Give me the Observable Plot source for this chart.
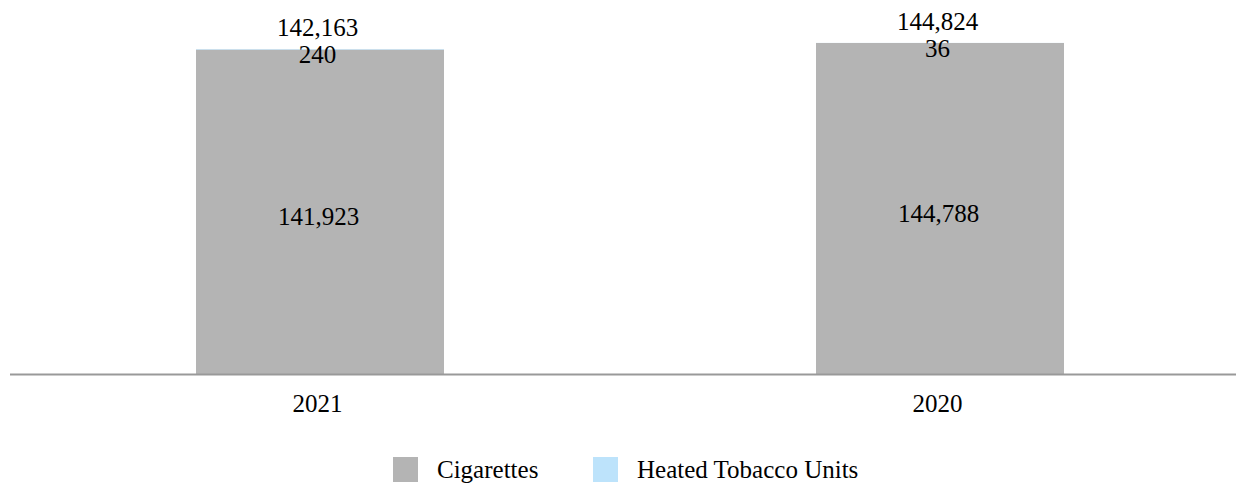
<!DOCTYPE html>
<html>
<head>
<meta charset="utf-8">
<script src="https://cdn.jsdelivr.net/npm/d3@7"></script>
<script src="https://cdn.jsdelivr.net/npm/@observablehq/plot@0.6"></script>
<style>
  html, body { margin: 0; padding: 0; background: #fff; }
  #wrap { position: relative; width: 1236px; height: 487px; font-family: "Liberation Serif", serif; }
  #chart { position: absolute; left: 0; top: 0; }
  #chart svg, #chart svg text { font-family: "Liberation Serif", serif !important; }
  .sw { position: absolute; width: 25px; height: 25px; top: 457px; }
  .lt { position: absolute; top: 455px; font-family: "Liberation Serif", serif; font-size: 25px; line-height: 29px; color: #000; white-space: nowrap; }
</style>
</head>
<body>
<div id="wrap">
  <div id="chart"></div>
</div>
<script>
const years = ["2021", "2020"];
const cigarettes = [141923, 144788];
const heated = [240, 36];
const totals = [142163, 144824];
const seriesNames = ["Cigarettes", "Heated Tobacco Units"];
const seriesColors = ["#b4b4b4", "#bde3fb"];

const rows = [];
years.forEach((y, i) => {
  rows.push({year: y, series: seriesNames[0], value: cigarettes[i]});
  rows.push({year: y, series: seriesNames[1], value: heated[i]});
});
const totalRows = years.map((y, i) => ({year: y, total: totals[i], cig: cigarettes[i], htu: heated[i]}));
const fmt = d3.format(",");
const ff = "'Liberation Serif', serif";

const chart = Plot.plot({
  width: 1236,
  height: 430,
  marginLeft: 10,
  marginRight: 0,
  marginTop: 0,
  marginBottom: 56,
  style: {fontFamily: ff, fontSize: "25px", color: "#000", background: "#fff"},
  x: {domain: years, range: [10, 1250], paddingInner: 0.6, paddingOuter: 0.3, label: null},
  y: {domain: [0, 160000], range: [374, 8.2], axis: null},
  color: {domain: seriesNames, range: seriesColors},
  marks: [
    Plot.barY(rows, {x: "year", y: "value", fill: "series", order: seriesNames}),
    Plot.ruleY([0], {stroke: "#999", strokeWidth: 2}),
    Plot.axisX({tickSize: 0, tickPadding: 20, dx: -3, fontSize: 25, fill: "#000", label: null, fontFamily: ff}),
    Plot.text(totalRows, {x: "year", y: "total", text: d => fmt(d.total), lineAnchor: "bottom", dx: -3, dy: -13, fontSize: 25, fill: "#000", fontFamily: ff}),
    Plot.text(totalRows, {x: "year", y: "total", text: d => fmt(d.htu), lineAnchor: "bottom", dx: -3, dy: 14, fontSize: 25, fill: "#000", fontFamily: ff}),
    Plot.text(totalRows, {x: "year", y: d => d.cig / 2, text: d => fmt(d.cig), lineAnchor: "middle", dx: -2, dy: 5, fontSize: 25, fill: "#000", fontFamily: ff})
  ]
});
document.getElementById("chart").appendChild(chart);

const legendPos = [{sw: 393, tx: 437}, {sw: 593, tx: 637}];
const wrap = document.getElementById("wrap");
seriesNames.forEach((name, i) => {
  const s = document.createElement("div");
  s.className = "sw";
  s.style.left = legendPos[i].sw + "px";
  s.style.background = seriesColors[i];
  wrap.appendChild(s);
  const t = document.createElement("div");
  t.className = "lt";
  t.style.left = legendPos[i].tx + "px";
  t.textContent = name;
  wrap.appendChild(t);
});
</script>
</body>
</html>
